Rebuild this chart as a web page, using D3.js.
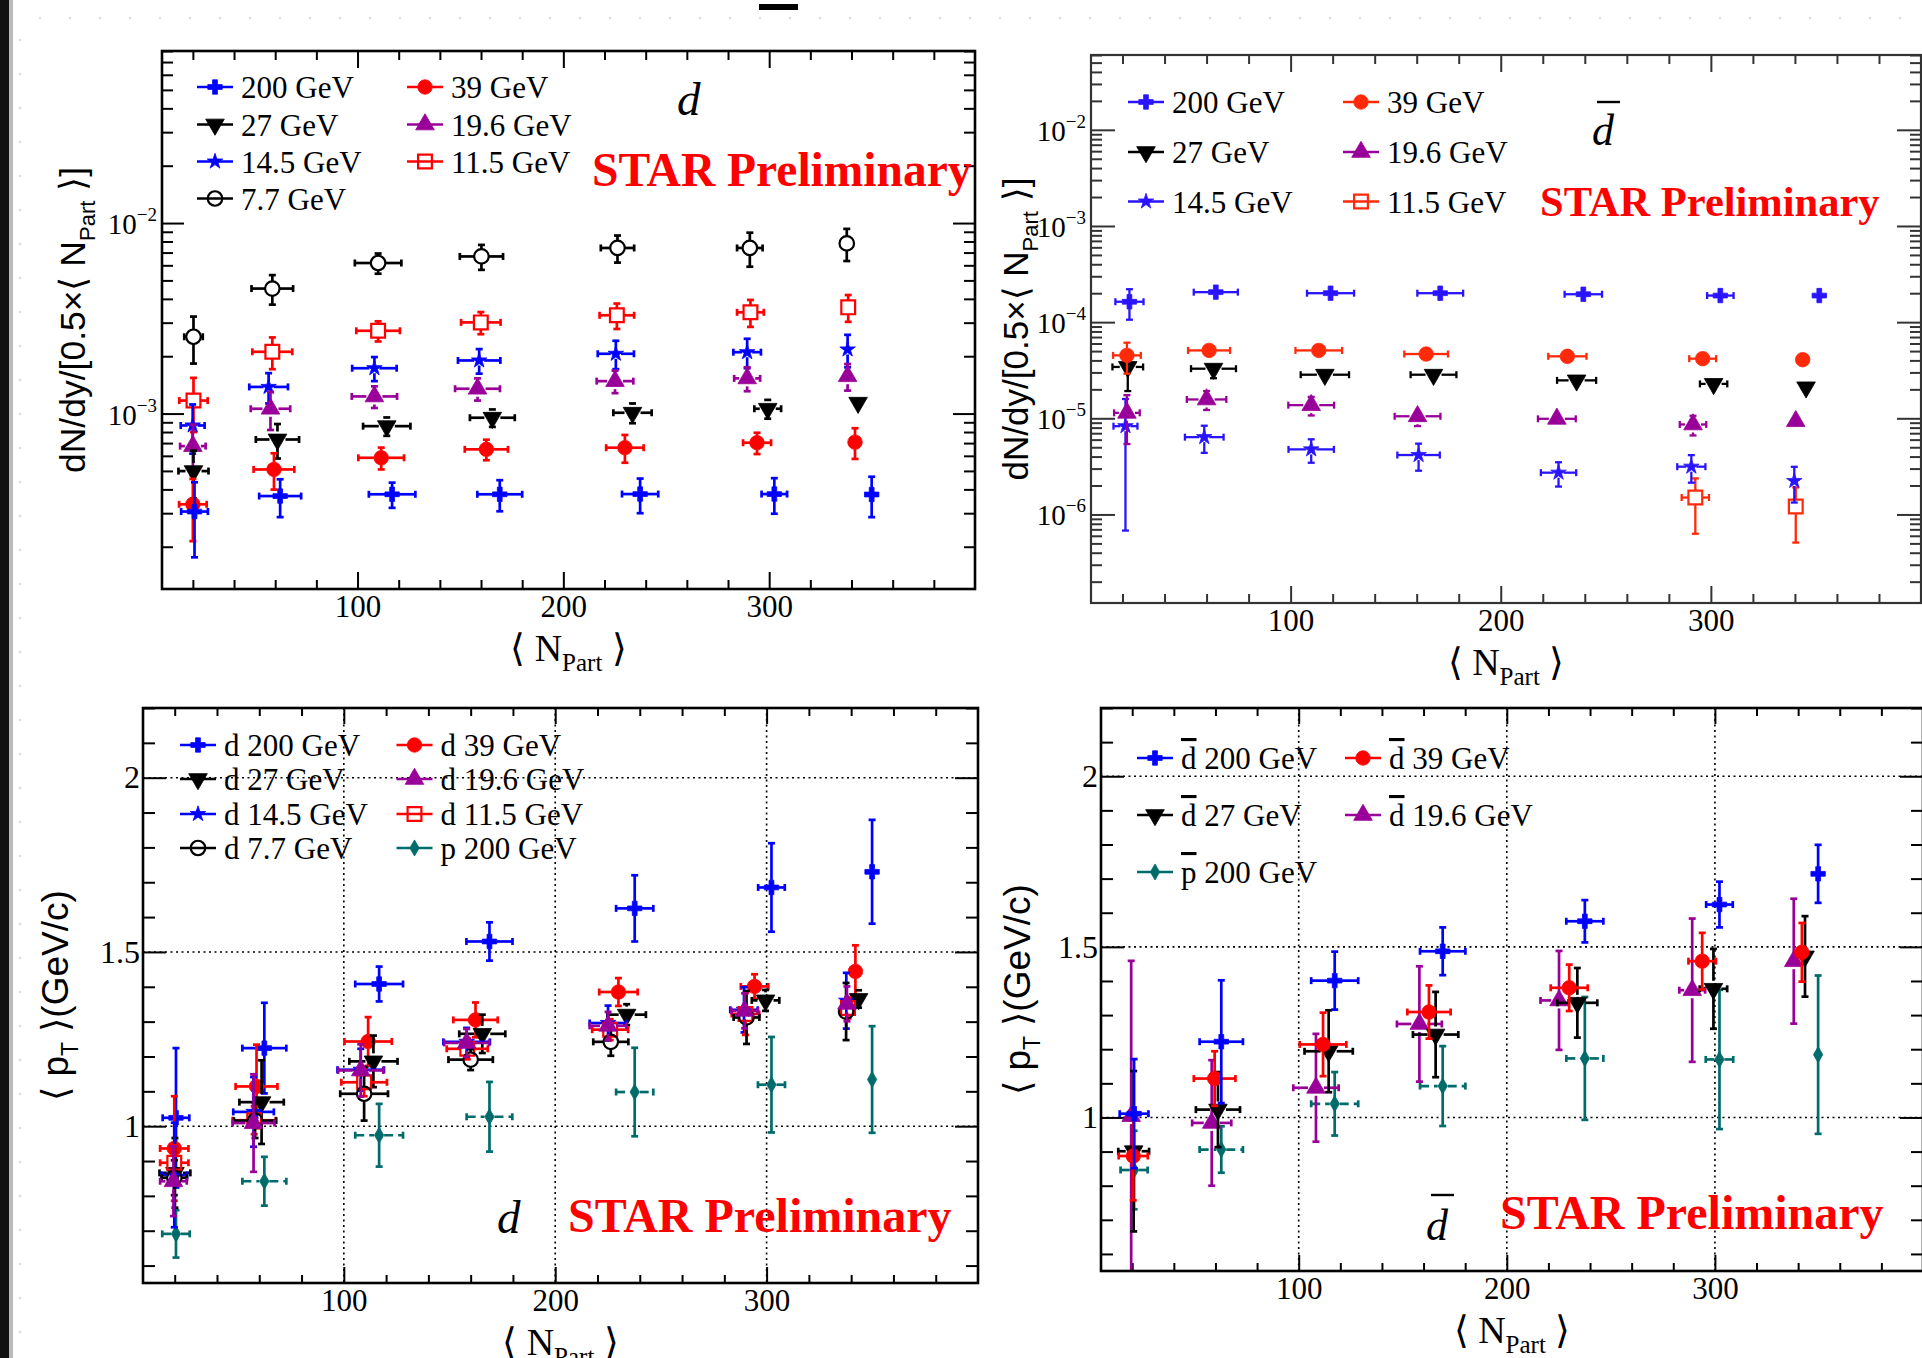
<!DOCTYPE html>
<html>
<head>
<meta charset="utf-8">
<script src="https://cdn.jsdelivr.net/npm/d3@7"></script>
<style>
  body { margin: 0; background: #fff; }
  svg { display: block; }
</style>
</head>
<body>
<svg id="chart" width="1922" height="1358"></svg>
<script>
// rows: [<N_part>, value, y error, x error]

// top left: d yields
var y1_200 = [[20.8,3.06e-4,1.3e-4,6.5],[62.4,3.69e-4,0.83e-4,10.2],[116.8,3.77e-4,0.57e-4,11.3],[169.1,3.77e-4,0.7e-4,10.9],[237.3,3.78e-4,0.78e-4,8.8],[302.5,3.78e-4,0.8e-4,6.2],[349.8,3.76e-4,0.9e-4,0]];
var y1_39  = [[20,3.34e-4,1.2e-4,6.7],[59.4,5.09e-4,1.1e-4,9.9],[111.5,5.86e-4,0.77e-4,11.1],[162.6,6.49e-4,0.8e-4,10.5],[229.9,6.62e-4,1.1e-4,9.1],[294.1,7.03e-4,0.9e-4,6.8],[341.7,7.08e-4,1.3e-4,0]];
var y1_27  = [[20.3,4.99e-4,1.4e-4,7.3],[61.1,7.31e-4,1.5e-4,10.5],[114.2,8.59e-4,0.95e-4,11.5],[165.5,9.51e-4,1.0e-4,10.9],[233.6,1.01e-3,1.2e-4,9.3],[299.3,1.06e-3,1.2e-4,6.5],[343.2,1.14e-3,0.8e-4,0]];
var y1_19  = [[20,6.75e-4,2.0e-4,6.2],[57.7,1.06e-3,2.4e-4,9.6],[108.2,1.23e-3,1.6e-4,11],[158.3,1.35e-3,1.8e-4,10.9],[225.1,1.48e-3,2.0e-4,8.9],[289.3,1.53e-3,2.2e-4,6.3],[338.1,1.57e-3,2.5e-4,0]];
var y1_14  = [[19.9,8.66e-4,2.5e-4,5.8],[56.8,1.38e-3,2.5e-4,9.4],[108.2,1.73e-3,2.5e-4,10.8],[159.1,1.90e-3,2.8e-4,10.3],[225.5,2.06e-3,3.5e-4,8.8],[289.3,2.10e-3,3.7e-4,6.7],[338.1,2.17e-3,4.2e-4,0]];
var y1_11  = [[20.3,1.17e-3,0.37e-3,6.9],[58.6,2.11e-3,0.4e-3,9.7],[110,2.72e-3,0.33e-3,10.6],[159.9,3.01e-3,0.4e-3,9.6],[226,3.28e-3,0.5e-3,8.4],[290.9,3.40e-3,0.55e-3,6.5],[338.4,3.61e-3,0.58e-3,0]];
var y1_7   = [[20.3,2.53e-3,0.7e-3,4.5],[58.6,4.53e-3,0.8e-3,10.1],[110,6.17e-3,0.75e-3,11.3],[160.2,6.68e-3,1.0e-3,10.5],[226.3,7.40e-3,1.2e-3,8.1],[290.6,7.40e-3,1.5e-3,6.2],[337.7,7.82e-3,1.5e-3,0]];

// top right: anti-d yields
var y2_200 = [[23.3,1.63e-4,0.57e-4,6.7],[64.4,2.05e-4,0.3e-4,10.5],[119,2.0e-4,0.15e-4,11.2],[171.2,2.0e-4,0.15e-4,10.9],[239.3,1.95e-4,0.15e-4,8.9],[304.5,1.89e-4,0.12e-4,6.3],[351.6,1.89e-4,0.1e-4,0]];
var y2_39  = [[22.1,4.51e-5,1.6e-5,6.6],[61.2,5.08e-5,0.5e-5,10],[113.4,5.08e-5,0.4e-5,11.1],[164.5,4.66e-5,0.4e-5,10.4],[231.7,4.41e-5,0.3e-5,9.1],[296.1,4.17e-5,0.3e-5,6.4],[343.7,4.07e-5,0.3e-5,0]];
var y2_27  = [[22.5,3.42e-5,1.5e-5,7.3],[63.3,3.28e-5,0.67e-5,10.7],[116.3,2.84e-5,0.3e-5,11.5],[168,2.84e-5,0.3e-5,10.9],[236.1,2.48e-5,0.2e-5,9.3],[301.3,2.28e-5,0.2e-5,6.5],[345.3,2.10e-5,0.25e-5,0]];
var y2_19  = [[22.1,1.14e-5,0.6e-5,6.1],[60,1.57e-5,0.35e-5,9.4],[109.8,1.37e-5,0.3e-5,10.9],[160.4,1.05e-5,0.22e-5,10.9],[226.7,0.988e-5,0.1e-5,9],[291.5,0.863e-5,0.2e-5,6.3],[340.4,0.933e-5,0.15e-5,0]];
var y2_14  = [[21.4,0.828e-5,0.76e-5,5.7],[58.9,0.637e-5,0.2e-5,9.2],[109.8,0.475e-5,0.13e-5,10.8],[160.9,0.415e-5,0.13e-5,10.1],[227.5,0.272e-5,0.077e-5,8.4],[290.7,0.314e-5,0.1e-5,6.7],[339.7,0.223e-5,0.09e-5,0]];
var y2_11  = [[292.6,1.50e-6,0.87e-6,6.5],[340.4,1.21e-6,0.7e-6,0]];

// bottom left: d <pT>
var p3_200 = [[20.6,1.024,0.2,6.3],[62.4,1.224,0.13,10.4],[116.7,1.408,0.05,11.3],[168.9,1.530,0.055,10.9],[237.6,1.625,0.095,8.8],[302.3,1.685,0.127,6.3],[349.9,1.730,0.149,0]];
var p3_39  = [[19.8,0.936,0.15,6.7],[58.7,1.114,0.12,9.9],[111.5,1.243,0.07,11.2],[162.3,1.305,0.05,10.5],[229.9,1.385,0.04,9.1],[294.3,1.401,0.035,6.5],[342,1.444,0.075,0]];
var p3_27  = [[20.1,0.866,0.1,7.3],[61.1,1.069,0.12,10.5],[114,1.186,0.074,11.4],[165.5,1.265,0.055,10.9],[233.8,1.320,0.03,9.1],[299.5,1.361,0.03,6.5],[343.5,1.365,0.025,0]];
var p3_19  = [[19.4,0.842,0.1,6.3],[57.3,1.009,0.14,9.9],[108,1.160,0.075,10.7],[158.1,1.239,0.04,10.6],[225,1.288,0.04,8.7],[289.6,1.331,0.05,6.3],[338,1.351,0.05,0]];
var p3_14  = [[19.8,0.86,0.15,6],[57.3,1.041,0.1,9.6],[108,1.162,0.06,11],[158.1,1.242,0.04,11],[225,1.296,0.05,8.7],[289.3,1.334,0.065,6.5],[337.7,1.360,0.08,0]];
var p3_11  = [[19.8,0.895,0.05,6.7],[57.6,1.017,0.04,10.2],[109.6,1.126,0.04,10.8],[158.4,1.222,0.03,9.7],[226,1.277,0.03,8.5],[290,1.322,0.06,6.5],[338.5,1.339,0.03,0]];
var p3_7   = [[19.8,0.852,0.05,6],[58,1.016,0.05,10],[109.6,1.093,0.077,11.3],[160,1.191,0.03,10.5],[226.3,1.242,0.04,8.3],[290.5,1.312,0.076,6.1],[337.6,1.329,0.082,0]];
var p3_p   = [[20.6,0.691,0.068,6.5],[62.4,0.842,0.07,10.4],[116.7,0.974,0.09,11.3],[168.9,1.027,0.1,10.8],[237.6,1.098,0.127,8.8],[302.3,1.119,0.137,6.4],[349.9,1.134,0.153,0]];

// bottom right: anti-d <pT>
var p4_200 = [[20.9,1.011,0.16,6.9],[62.8,1.222,0.18,10.4],[117.3,1.401,0.085,11.3],[169.2,1.487,0.07,10.9],[237.5,1.575,0.062,8.9],[302.2,1.624,0.067,6.4],[349.6,1.714,0.085,0]];
var p4_39  = [[20.5,0.887,0.13,7],[59.6,1.114,0.08,10],[111.7,1.214,0.093,11.2],[162.6,1.309,0.078,10.4],[230,1.380,0.068,8.9],[293.9,1.458,0.083,6.6],[341.8,1.484,0.086,0]];
var p4_27  = [[20.7,0.901,0.235,7.4],[61.2,1.023,0.11,10.6],[114.4,1.194,0.12,11.6],[165.8,1.243,0.125,10.9],[233.9,1.336,0.102,9.6],[299.3,1.377,0.117,6.6],[343.3,1.472,0.118,0]];
var p4_19  = [[19.5,1.004,0.455,0],[58.2,0.984,0.184,9.4],[108.3,1.087,0.158,10.9],[158,1.274,0.169,10.8],[225.1,1.343,0.145,8.9],[289.1,1.373,0.21,6.2],[337.9,1.458,0.183,0]];
var p4_p   = [[20.9,0.846,0.115,6.5],[62.8,0.906,0.068,10.4],[117.3,1.040,0.093,11.3],[169.2,1.092,0.117,10.9],[237.5,1.173,0.18,8.9],[302.2,1.170,0.204,6.6],[349.6,1.184,0.232,0]];

// axis ticks
var xMajor = [100, 200, 300];
var xMinor = [20, 40, 60, 80, 120, 140, 160, 180, 220, 240, 260, 280, 320, 340, 360, 380];
var yMajorLin = [1, 1.5, 2];
var yMinorLin = [0.6, 0.7, 0.8, 0.9, 1.1, 1.2, 1.3, 1.4, 1.6, 1.7, 1.8, 1.9, 2.1, 2.2];

var SERIF = '"Liberation Serif", "Times New Roman", serif';
var SANS = '"Liberation Sans", Arial, sans-serif';
var BLUE = '#0000ff', RED = '#ff0000', BLACK = '#000000', PURPLE = '#990099', TEAL = '#006b6b';
var BLUE2 = '#2a14ff', RED2 = '#ff2a0a';

var svg = d3.select('#chart');

// slide decoration
svg.append('rect').attr('x', 0).attr('y', 0).attr('width', 9).attr('height', 1358).attr('fill', '#111');
svg.append('rect').attr('x', 9).attr('y', 0).attr('width', 4).attr('height', 1358).attr('fill', '#bbb');
svg.append('rect').attr('x', 759).attr('y', 4).attr('width', 39).attr('height', 6).attr('fill', '#000');
svg.append('g').selectAll('circle').data(d3.range(40, 1922, 30)).enter().append('circle')
  .attr('cx', function(d) { return d; }).attr('cy', 18).attr('r', 1.3).attr('fill', '#dcdcdc');
svg.append('g').selectAll('circle').data(d3.range(40, 1358, 34)).enter().append('circle')
  .attr('cx', 20).attr('cy', function(d) { return d; }).attr('r', 1.3).attr('fill', '#dcdcdc');

var MK = {
  cross: { type: d3.symbolCross, size: 115, gap: 7 },
  tdown: { type: d3.symbolTriangle, size: 150, rot: 180, gap: 8 },
  tup:   { type: d3.symbolTriangle, size: 150, gap: 8 },
  star:  { type: d3.symbolStar, size: 75, gap: 5 },
  circ:  { type: d3.symbolCircle, size: 165, gap: 7 },
  ocirc: { type: d3.symbolCircle, size: 165, open: true, gap: 7 },
  osq:   { type: d3.symbolSquare, size: 190, open: true, gap: 7 },
  diam:  { type: d3.symbolDiamond, size: 75, gap: 5 }
};

function drawMarker(g, cx, cy, m, color) {
  var s = MK[m];
  g.append('path')
    .attr('d', d3.symbol().type(s.type).size(s.size)())
    .attr('transform', 'translate(' + cx + ',' + cy + ')' + (s.rot ? ' rotate(' + s.rot + ')' : ''))
    .attr('fill', s.open ? 'none' : color)
    .attr('stroke', color)
    .attr('stroke-width', s.open ? 2.2 : 0.8);
}

function line(g, x1, y1, x2, y2, color, w, dash) {
  g.append('line').attr('x1', x1).attr('y1', y1).attr('x2', x2).attr('y2', y2)
    .attr('stroke', color).attr('stroke-width', w).attr('stroke-dasharray', dash || null);
}

function panel(p) {
  var g = svg.append('g');
  var x = d3.scaleLinear().domain([5, 400]).range([p.x0, p.x1]);
  var y = (p.log ? d3.scaleLog() : d3.scaleLinear()).domain(p.yDomain).range([p.y1, p.y0]);
  var ax = p.axisColor || '#000';

  g.append('rect').attr('x', p.x0).attr('y', p.y0).attr('width', p.x1 - p.x0).attr('height', p.y1 - p.y0)
    .attr('fill', '#fff');

  var clipId = 'clip' + p.id;
  g.append('clipPath').attr('id', clipId).append('rect')
    .attr('x', p.x0).attr('y', p.y0).attr('width', p.x1 - p.x0).attr('height', p.y1 - p.y0);

  var yMajor, yMinor;
  if (p.log) {
    yMajor = []; yMinor = [];
    for (var e = -8; e <= -1; e++) {
      for (var k = 1; k <= 9; k++) {
        var v = k * Math.pow(10, e);
        if (v < p.yDomain[0] || v > p.yDomain[1]) continue;
        (k === 1 ? yMajor : yMinor).push(v);
      }
    }
  } else {
    yMajor = yMajorLin; yMinor = yMinorLin;
  }

  // dotted grid
  if (p.grid) {
    var gg = g.append('g').attr('stroke', '#000').attr('stroke-width', 1.6).attr('stroke-dasharray', '2,3.5');
    xMajor.forEach(function(v) { gg.append('line').attr('x1', x(v)).attr('x2', x(v)).attr('y1', p.y0).attr('y2', p.y1); });
    yMajor.forEach(function(v) { gg.append('line').attr('y1', y(v)).attr('y2', y(v)).attr('x1', p.x0).attr('x2', p.x1); });
  }

  function ticks(axisFn, scale, values, len, tr) {
    g.append('g').attr('transform', tr)
      .call(axisFn(scale).tickValues(values).tickSize(-len).tickSizeOuter(0).tickFormat(''))
      .call(function(a) {
        a.select('.domain').remove();
        a.selectAll('line').attr('stroke', ax).attr('stroke-width', 2);
      });
  }
  ticks(d3.axisBottom, x, xMajor, p.xt[0], 'translate(0,' + p.y1 + ')');
  ticks(d3.axisBottom, x, xMinor, p.xt[1], 'translate(0,' + p.y1 + ')');
  ticks(d3.axisTop, x, xMajor, p.xt[0], 'translate(0,' + p.y0 + ')');
  ticks(d3.axisTop, x, xMinor, p.xt[1], 'translate(0,' + p.y0 + ')');
  ticks(d3.axisLeft, y, yMajor, p.yt[0], 'translate(' + p.x0 + ',0)');
  ticks(d3.axisLeft, y, yMinor, p.yt[1], 'translate(' + p.x0 + ',0)');
  ticks(d3.axisRight, y, yMajor, p.yt[0], 'translate(' + p.x1 + ',0)');
  ticks(d3.axisRight, y, yMinor, p.yt[1], 'translate(' + p.x1 + ',0)');

  // tick labels
  g.append('g').attr('transform', 'translate(0,' + p.y1 + ')')
    .call(d3.axisBottom(x).tickValues(xMajor).tickSize(0).tickPadding(6).tickFormat(d3.format('d')))
    .call(function(a) {
      a.select('.domain').remove();
      a.selectAll('text').attr('fill', '#000').style('font-family', SERIF).style('font-size', '31px');
    });
  if (p.log) {
    var lab = g.append('g').selectAll('text').data(yMajor).enter().append('text')
      .attr('x', p.x0 - 5).attr('y', function(d) { return y(d) + 11; })
      .attr('text-anchor', 'end').style('font-family', SERIF).style('font-size', '29px');
    lab.append('tspan').text('10');
    lab.append('tspan').attr('dy', -13).style('font-size', '19px')
      .text(function(d) { return '\u2212' + Math.round(-Math.log10(d)); });
  } else {
    g.append('g').attr('transform', 'translate(' + p.x0 + ',0)')
      .call(d3.axisLeft(y).tickValues(yMajor).tickSize(0).tickPadding(3).tickFormat(d3.format('~g')))
      .call(function(a) {
        a.select('.domain').remove();
        a.selectAll('text').attr('fill', '#000').style('font-family', SERIF).style('font-size', '32px');
      });
  }

  // data
  var dg = g.append('g').attr('clip-path', 'url(#' + clipId + ')');
  p.series.forEach(function(s) {
    var gap = MK[s.m].gap, cw = p.capW || 3.5, lw = p.lw || 2.7;
    var pts = dg.append('g').selectAll('g').data(s.data).enter().append('g');
    pts.each(function(r) {
      var pg = d3.select(this);
      var cx = x(r[0]), cy = y(r[1]);
      var lo = r[1] - r[2];
      if (p.log && lo <= 0) lo = p.yDomain[0] * 0.5;
      var yt = y(r[1] + r[2]), yb = y(lo);
      if (cy - yt > gap) { line(pg, cx, yt, cx, cy - gap, s.c, lw); line(pg, cx - cw, yt, cx + cw, yt, s.c, lw); }
      if (yb - cy > gap) { line(pg, cx, cy + gap, cx, yb, s.c, lw); line(pg, cx - cw, yb, cx + cw, yb, s.c, lw); }
      if (r[3] > 0) {
        var xl = x(r[0] - r[3]), xr = x(r[0] + r[3]);
        if (cx - xl > gap) { line(pg, xl, cy, cx - gap, cy, s.c, lw, s.dash); line(pg, xl, cy - cw, xl, cy + cw, s.c, lw); }
        if (xr - cx > gap) { line(pg, cx + gap, cy, xr, cy, s.c, lw, s.dash); line(pg, xr, cy - cw, xr, cy + cw, s.c, lw); }
      }
      drawMarker(pg, cx, cy, s.m, s.c);
    });
  });

  g.append('rect').attr('x', p.x0).attr('y', p.y0).attr('width', p.x1 - p.x0).attr('height', p.y1 - p.y0)
    .attr('fill', 'none').attr('stroke', ax).attr('stroke-width', p.frameW || 2.6);

  // legend
  var lg = g.append('g');
  p.legend.forEach(function(L) {
    var cx = p.legCols[L.col], cy = p.legRows[L.row];
    line(lg, cx - 18, cy, cx + 18, cy, L.s.c, 2.6);
    drawMarker(lg, cx, cy, L.s.m, L.s.c);
    var t = lg.append('text').attr('x', cx + 26).attr('y', cy + 11)
      .style('font-family', SERIF).style('font-size', '31px').attr('fill', '#000');
    if (L.bar) {
      t.append('tspan').style('text-decoration', 'overline').text(L.bar);
      t.append('tspan').text(L.label);
    } else {
      t.text(L.label);
    }
  });

  // particle label
  lg.append('text').attr('x', p.dLab[0]).attr('y', p.dLab[1])
    .style('font-family', SERIF).style('font-style', 'italic').style('font-size', p.dLab[2] + 'px').text('d');
  if (p.dBar) line(lg, p.dBar[0], p.dBar[2], p.dBar[1], p.dBar[2], '#000', 2.4);

  lg.append('text').attr('x', p.star[0]).attr('y', p.star[1])
    .style('font-family', SERIF).style('font-weight', 'bold').style('font-size', p.star[2] + 'px')
    .attr('fill', '#ff0000').text('STAR Preliminary');

  // axis titles
  var xt = svg.append('text').attr('x', (p.x0 + p.x1) / 2).attr('y', p.y1 + 72).attr('text-anchor', 'middle')
    .style('font-family', SERIF).style('font-size', '38px');
  xt.append('tspan').text('\u27E8 N');
  xt.append('tspan').attr('dy', 10).style('font-size', '25px').text('Part');
  xt.append('tspan').attr('dy', -10).text(' \u27E9');

  var yt = svg.append('text').attr('transform', 'translate(' + p.yTitle[0] + ',' + ((p.y0 + p.y1) / 2) + ') rotate(-90)')
    .attr('text-anchor', 'middle').style('font-family', SANS).style('font-size', p.yTitle[1] + 'px');
  var sub = Math.round(p.yTitle[1] * 0.62);
  if (p.log) {
    yt.append('tspan').text('dN/dy/[0.5\u00D7\u27E8 N');
    yt.append('tspan').attr('dy', 10).style('font-size', sub + 'px').text('Part');
    yt.append('tspan').attr('dy', -10).text(' \u27E9]');
  } else {
    yt.append('tspan').text('\u27E8 p');
    yt.append('tspan').attr('dy', 10).style('font-size', sub + 'px').text('T');
    yt.append('tspan').attr('dy', -10).text(' \u27E9(GeV/c)');
  }
}

// ---- top left ----
var s1 = {
  b200: { data: y1_200, c: BLUE, m: 'cross' }, b39: { data: y1_39, c: RED, m: 'circ' },
  b27: { data: y1_27, c: BLACK, m: 'tdown' }, b19: { data: y1_19, c: PURPLE, m: 'tup' },
  b14: { data: y1_14, c: BLUE, m: 'star' }, b11: { data: y1_11, c: RED, m: 'osq' },
  b7: { data: y1_7, c: BLACK, m: 'ocirc' }
};
panel({
  id: 1, x0: 162, x1: 975, y0: 51, y1: 589, log: true, yDomain: [1.2e-4, 0.08],
  xt: [17, 9], yt: [22, 11],
  series: [s1.b7, s1.b11, s1.b14, s1.b19, s1.b27, s1.b39, s1.b200],
  legCols: [215, 425], legRows: [87, 124.5, 161.5, 198.5],
  legend: [
    { col: 0, row: 0, s: s1.b200, label: '200 GeV' }, { col: 1, row: 0, s: s1.b39, label: '39 GeV' },
    { col: 0, row: 1, s: s1.b27, label: '27 GeV' }, { col: 1, row: 1, s: s1.b19, label: '19.6 GeV' },
    { col: 0, row: 2, s: s1.b14, label: '14.5 GeV' }, { col: 1, row: 2, s: s1.b11, label: '11.5 GeV' },
    { col: 0, row: 3, s: s1.b7, label: '7.7 GeV' }
  ],
  dLab: [677, 115, 47], star: [592, 186, 47.5], yTitle: [85, 35.5]
});

// ---- top right ----
var s2 = {
  b200: { data: y2_200, c: BLUE2, m: 'cross' }, b39: { data: y2_39, c: RED2, m: 'circ' },
  b27: { data: y2_27, c: BLACK, m: 'tdown' }, b19: { data: y2_19, c: PURPLE, m: 'tup' },
  b14: { data: y2_14, c: BLUE2, m: 'star' }, b11: { data: y2_11, c: RED2, m: 'osq' }
};
panel({
  id: 2, x0: 1091, x1: 1921, y0: 55, y1: 603, log: true, yDomain: [1.2e-7, 0.06],
  xt: [17, 9], yt: [24, 11], axisColor: '#333', lw: 2.3, frameW: 2.2,
  series: [s2.b11, s2.b14, s2.b19, s2.b27, s2.b39, s2.b200],
  legCols: [1146, 1361], legRows: [102, 152, 201.5],
  legend: [
    { col: 0, row: 0, s: s2.b200, label: '200 GeV' }, { col: 1, row: 0, s: s2.b39, label: '39 GeV' },
    { col: 0, row: 1, s: s2.b27, label: '27 GeV' }, { col: 1, row: 1, s: s2.b19, label: '19.6 GeV' },
    { col: 0, row: 2, s: s2.b14, label: '14.5 GeV' }, { col: 1, row: 2, s: s2.b11, label: '11.5 GeV' }
  ],
  dLab: [1592, 145, 44], dBar: [1597, 1620, 102], star: [1540, 216, 42.5], yTitle: [1028, 35]
});

// ---- bottom left ----
var s3 = {
  b200: { data: p3_200, c: BLUE, m: 'cross' }, b39: { data: p3_39, c: RED, m: 'circ' },
  b27: { data: p3_27, c: BLACK, m: 'tdown' }, b19: { data: p3_19, c: PURPLE, m: 'tup' },
  b14: { data: p3_14, c: BLUE, m: 'star' }, b11: { data: p3_11, c: RED, m: 'osq' },
  b7: { data: p3_7, c: BLACK, m: 'ocirc' }, p200: { data: p3_p, c: TEAL, m: 'diam', dash: '9,5' }
};
panel({
  id: 3, x0: 143, x1: 978, y0: 708, y1: 1283, log: false, yDomain: [0.55, 2.2], grid: true,
  xt: [16, 8], yt: [23, 12],
  series: [s3.p200, s3.b200, s3.b39, s3.b27, s3.b14, s3.b11, s3.b7, s3.b19],
  legCols: [198, 414.5], legRows: [745, 779, 814, 848],
  legend: [
    { col: 0, row: 0, s: s3.b200, label: 'd 200 GeV' }, { col: 1, row: 0, s: s3.b39, label: 'd 39 GeV' },
    { col: 0, row: 1, s: s3.b27, label: 'd 27 GeV' }, { col: 1, row: 1, s: s3.b19, label: 'd 19.6 GeV' },
    { col: 0, row: 2, s: s3.b14, label: 'd 14.5 GeV' }, { col: 1, row: 2, s: s3.b11, label: 'd 11.5 GeV' },
    { col: 0, row: 3, s: s3.b7, label: 'd 7.7 GeV' }, { col: 1, row: 3, s: s3.p200, label: 'p 200 GeV' }
  ],
  dLab: [497, 1233, 47], star: [568, 1232, 48], yTitle: [68, 37]
});

// ---- bottom right ----
var s4 = {
  b200: { data: p4_200, c: BLUE, m: 'cross' }, b39: { data: p4_39, c: RED, m: 'circ' },
  b27: { data: p4_27, c: BLACK, m: 'tdown' }, b19: { data: p4_19, c: PURPLE, m: 'tup' },
  p200: { data: p4_p, c: TEAL, m: 'diam', dash: '9,5' }
};
panel({
  id: 4, x0: 1101, x1: 1923, y0: 708, y1: 1271, log: false, yDomain: [0.55, 2.2], grid: true,
  xt: [16, 8], yt: [23, 12],
  series: [s4.p200, s4.b19, s4.b27, s4.b39, s4.b200],
  legCols: [1155, 1363], legRows: [758, 815, 872],
  legend: [
    { col: 0, row: 0, s: s4.b200, bar: 'd', label: ' 200 GeV' }, { col: 1, row: 0, s: s4.b39, bar: 'd', label: ' 39 GeV' },
    { col: 0, row: 1, s: s4.b27, bar: 'd', label: ' 27 GeV' }, { col: 1, row: 1, s: s4.b19, bar: 'd', label: ' 19.6 GeV' },
    { col: 0, row: 2, s: s4.p200, bar: 'p', label: ' 200 GeV' }
  ],
  dLab: [1426, 1240, 44], dBar: [1431, 1454, 1195], star: [1500, 1229, 48], yTitle: [1030, 37]
});
</script>
</body>
</html>
